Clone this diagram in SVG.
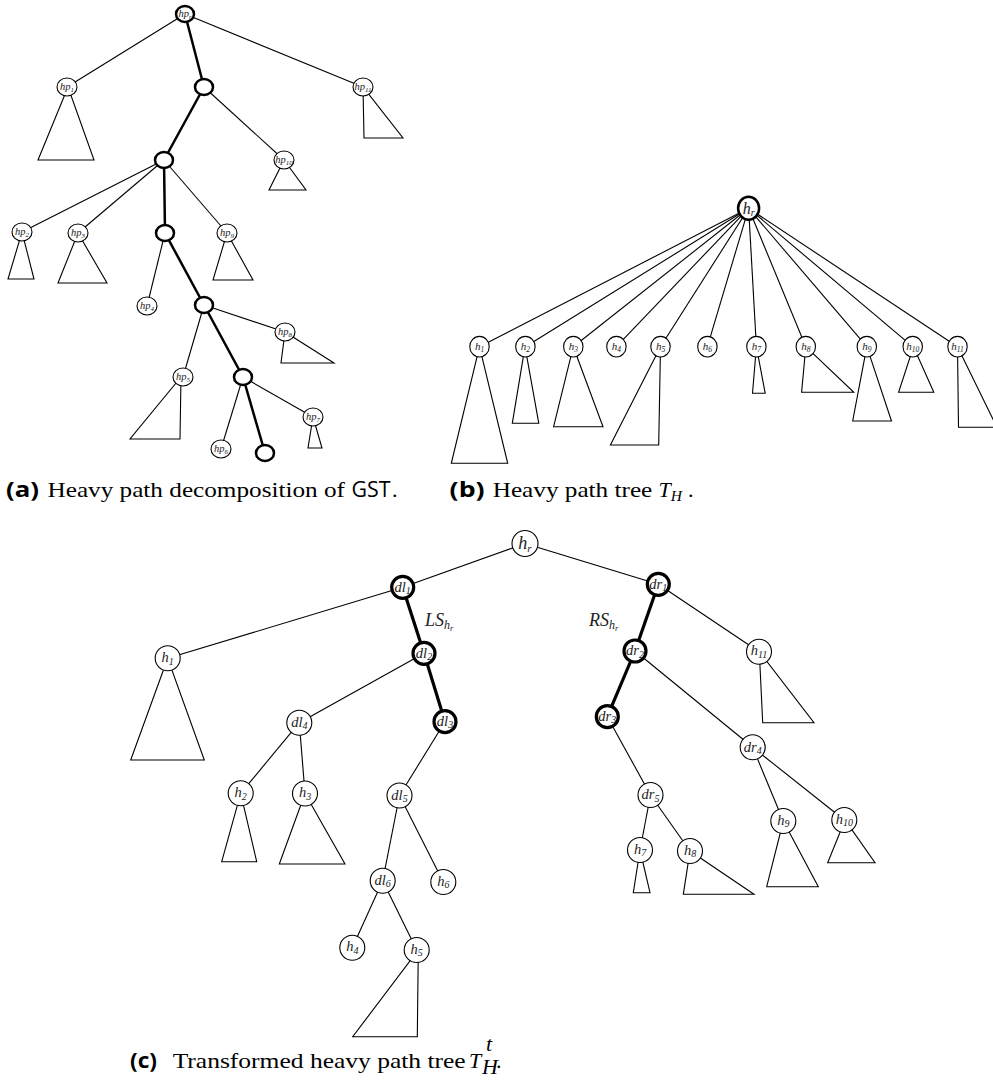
<svg xmlns="http://www.w3.org/2000/svg" width="993" height="1082" viewBox="0 0 993 1082">
<style>
.c{fill:none;stroke:#000;stroke-width:1.1}
.ch{fill:none;stroke:#000;stroke-width:2.5}
.chc{fill:none;stroke:#000;stroke-width:3.2}
.n{fill:#fff;stroke:#000;stroke-width:1.1}
.nh{fill:#fff;stroke:#000;stroke-width:2.5}
.nhc{fill:#fff;stroke:#000;stroke-width:3.2}
.tri{fill:none;stroke:#000;stroke-width:1.1;stroke-linejoin:miter}
.l{font-family:"Liberation Serif",serif;font-style:italic;text-anchor:middle;fill:#222}
.la{font-size:10.5px}
.lb{font-size:11px}
.lc{font-size:14.5px}
.cap{font-family:"Liberation Serif",serif;font-size:22px;fill:#000}
.capb{font-family:"Open Sans","DejaVu Sans",sans-serif;font-weight:700;font-size:21px;fill:#000}
.sans{font-family:"Open Sans","DejaVu Sans",sans-serif;font-size:21px;fill:#000}
</style>
<rect width="993" height="1082" fill="#fff"/>

<g id="connectors">
  <!-- panel a -->
  <line class="c" x1="185" y1="14" x2="67" y2="87"/>
  <line class="ch" x1="185" y1="14" x2="204" y2="87"/>
  <line class="c" x1="185" y1="14" x2="363" y2="87"/>
  <line class="ch" x1="204" y1="87" x2="164" y2="160"/>
  <line class="c" x1="204" y1="87" x2="284" y2="160"/>
  <line class="c" x1="164" y1="160" x2="22" y2="232"/>
  <line class="c" x1="164" y1="160" x2="78" y2="233"/>
  <line class="ch" x1="164" y1="160" x2="165" y2="233"/>
  <line class="c" x1="164" y1="160" x2="227" y2="233"/>
  <line class="c" x1="165" y1="233" x2="147" y2="306"/>
  <line class="ch" x1="165" y1="233" x2="204" y2="305"/>
  <line class="c" x1="204" y1="305" x2="285" y2="332"/>
  <line class="c" x1="204" y1="305" x2="183" y2="377"/>
  <line class="ch" x1="204" y1="305" x2="243" y2="377"/>
  <line class="c" x1="243" y1="377" x2="313" y2="417"/>
  <line class="c" x1="243" y1="377" x2="221" y2="449"/>
  <line class="ch" x1="243" y1="377" x2="265" y2="453"/>
  <!-- panel b -->
  <line class="c" x1="748.6" y1="208.3" x2="479.5" y2="346.7"/>
  <line class="c" x1="748.6" y1="208.3" x2="525.4" y2="346.7"/>
  <line class="c" x1="748.6" y1="208.3" x2="573.3" y2="346.7"/>
  <line class="c" x1="748.6" y1="208.3" x2="616.4" y2="346.7"/>
  <line class="c" x1="748.6" y1="208.3" x2="660.5" y2="346.7"/>
  <line class="c" x1="748.6" y1="208.3" x2="707.4" y2="346.7"/>
  <line class="c" x1="748.6" y1="208.3" x2="756.4" y2="346.7"/>
  <line class="c" x1="748.6" y1="208.3" x2="805.8" y2="346.7"/>
  <line class="c" x1="748.6" y1="208.3" x2="866.8" y2="346.7"/>
  <line class="c" x1="748.6" y1="208.3" x2="912.7" y2="346.7"/>
  <line class="c" x1="748.6" y1="208.3" x2="957.5" y2="346.7"/>
  <!-- panel c -->
  <line class="c" x1="525" y1="543.5" x2="402.7" y2="587.3"/>
  <line class="c" x1="525" y1="543.5" x2="658.3" y2="584.3"/>
  <line class="c" x1="402.7" y1="587.3" x2="167.7" y2="658.3"/>
  <line class="chc" x1="402.7" y1="587.3" x2="424" y2="653.3"/>
  <line class="c" x1="424" y1="653.3" x2="299.3" y2="722.7"/>
  <line class="chc" x1="424" y1="653.3" x2="445" y2="721.7"/>
  <line class="c" x1="299.3" y1="722.7" x2="240.7" y2="793.3"/>
  <line class="c" x1="299.3" y1="722.7" x2="305" y2="793.5"/>
  <line class="c" x1="445" y1="721.7" x2="399.5" y2="795.5"/>
  <line class="c" x1="399.5" y1="795.5" x2="382.7" y2="880.7"/>
  <line class="c" x1="399.5" y1="795.5" x2="443.3" y2="882"/>
  <line class="c" x1="382.7" y1="880.7" x2="352.3" y2="947.7"/>
  <line class="c" x1="382.7" y1="880.7" x2="416.7" y2="950"/>
  <line class="chc" x1="658.3" y1="584.3" x2="635" y2="651"/>
  <line class="c" x1="658.3" y1="584.3" x2="759" y2="651.7"/>
  <line class="chc" x1="635" y1="651" x2="607.3" y2="716.7"/>
  <line class="c" x1="635" y1="651" x2="752.7" y2="747.3"/>
  <line class="c" x1="607.3" y1="716.7" x2="650.5" y2="795"/>
  <line class="c" x1="650.5" y1="795" x2="640" y2="850"/>
  <line class="c" x1="650.5" y1="795" x2="690" y2="851"/>
  <line class="c" x1="752.7" y1="747.3" x2="783.3" y2="821"/>
  <line class="c" x1="752.7" y1="747.3" x2="844.3" y2="820"/>
</g>

<!-- Panel (a) nodes -->
<g id="a-hpr"><ellipse class="nh" cx="185" cy="14" rx="9" ry="8"/><text class="l la" x="185" y="17">hp<tspan font-size="7" dy="2">r</tspan></text></g>
<g id="a-n1"><ellipse class="nh" cx="204" cy="87" rx="9" ry="8"/></g>
<g id="a-hp1"><polygon class="tri" points="68,87 38,160 94,160"/><ellipse class="n" cx="67" cy="87" rx="10" ry="9"/><text class="l la" x="67" y="90">hp<tspan font-size="7" dy="2">1</tspan></text></g>
<g id="a-hp11"><polygon class="tri" points="363,87 364,138 403,138"/><ellipse class="n" cx="363" cy="87" rx="10" ry="9"/><text class="l la" x="363" y="90">hp<tspan font-size="7" dy="2">11</tspan></text></g>
<g id="a-n2"><ellipse class="nh" cx="164" cy="160" rx="9" ry="8"/></g>
<g id="a-hp10"><polygon class="tri" points="284,160 269,190 306,190"/><ellipse class="n" cx="284" cy="160" rx="10" ry="9"/><text class="l la" x="284" y="163">hp<tspan font-size="7" dy="2">10</tspan></text></g>
<g id="a-hp2"><polygon class="tri" points="22,232 8,279 34,279"/><ellipse class="n" cx="22" cy="232" rx="10" ry="9"/><text class="l la" x="22" y="235">hp<tspan font-size="7" dy="2">2</tspan></text></g>
<g id="a-hp3"><polygon class="tri" points="78,233 58,283 107,283"/><ellipse class="n" cx="78" cy="233" rx="10" ry="9"/><text class="l la" x="78" y="236">hp<tspan font-size="7" dy="2">3</tspan></text></g>
<g id="a-n3"><ellipse class="nh" cx="165" cy="233" rx="9" ry="8"/></g>
<g id="a-hp9"><polygon class="tri" points="227,233 213,280 253,280"/><ellipse class="n" cx="227" cy="233" rx="10" ry="9"/><text class="l la" x="227" y="236">hp<tspan font-size="7" dy="2">9</tspan></text></g>
<g id="a-hp4"><ellipse class="n" cx="147" cy="306" rx="10" ry="9"/><text class="l la" x="147" y="309">hp<tspan font-size="7" dy="2">4</tspan></text></g>
<g id="a-n4"><ellipse class="nh" cx="204" cy="305" rx="9" ry="8"/></g>
<g id="a-hp8"><polygon class="tri" points="285,332 281,363 334,363"/><ellipse class="n" cx="285" cy="332" rx="10" ry="9"/><text class="l la" x="285" y="335">hp<tspan font-size="7" dy="2">8</tspan></text></g>
<g id="a-hp5"><polygon class="tri" points="181,377 180,439 130,439"/><ellipse class="n" cx="183" cy="377" rx="10" ry="9"/><text class="l la" x="183" y="380">hp<tspan font-size="7" dy="2">5</tspan></text></g>
<g id="a-n5"><ellipse class="nh" cx="243" cy="377" rx="9" ry="8"/></g>
<g id="a-hp7"><polygon class="tri" points="313,417 308,448 322,448"/><ellipse class="n" cx="313" cy="417" rx="10" ry="9"/><text class="l la" x="313" y="420">hp<tspan font-size="7" dy="2">7</tspan></text></g>
<g id="a-hp6"><ellipse class="n" cx="221" cy="449" rx="10" ry="9"/><text class="l la" x="221" y="452">hp<tspan font-size="7" dy="2">6</tspan></text></g>
<g id="a-n6"><ellipse class="nh" cx="265" cy="453" rx="9" ry="8"/></g>

<!-- Panel (b) nodes -->
<g id="b-hr"><ellipse class="nh" cx="748.6" cy="208.3" rx="10.5" ry="11.5"/><text class="l" font-size="16" x="748.6" y="213.5">h<tspan font-size="10" dy="2">r</tspan></text></g>
<g id="b-h1"><polygon class="tri" points="479.5,346.7 451.3,463.3 507.7,463.3"/><ellipse class="n" cx="479.5" cy="346.7" rx="9.7" ry="10.3"/><text class="l lb" x="479.5" y="350">h<tspan font-size="7.5" dy="2">1</tspan></text></g>
<g id="b-h2"><polygon class="tri" points="525,346.7 512.3,423.3 538.8,423.3"/><ellipse class="n" cx="525.4" cy="346.7" rx="9.7" ry="10.3"/><text class="l lb" x="525.4" y="350">h<tspan font-size="7.5" dy="2">2</tspan></text></g>
<g id="b-h3"><polygon class="tri" points="573.3,346.7 553.6,426.7 603,426.7"/><ellipse class="n" cx="573.3" cy="346.7" rx="9.7" ry="10.3"/><text class="l lb" x="573.3" y="350">h<tspan font-size="7.5" dy="2">3</tspan></text></g>
<g id="b-h4"><ellipse class="n" cx="616.4" cy="346.7" rx="9.7" ry="10.3"/><text class="l lb" x="616.4" y="350">h<tspan font-size="7.5" dy="2">4</tspan></text></g>
<g id="b-h5"><polygon class="tri" points="660.5,346.7 658.7,445 610.4,445"/><ellipse class="n" cx="660.5" cy="346.7" rx="9.7" ry="10.3"/><text class="l lb" x="660.5" y="350">h<tspan font-size="7.5" dy="2">5</tspan></text></g>
<g id="b-h6"><ellipse class="n" cx="707.4" cy="346.7" rx="9.7" ry="10.3"/><text class="l lb" x="707.4" y="350">h<tspan font-size="7.5" dy="2">6</tspan></text></g>
<g id="b-h7"><polygon class="tri" points="756.4,346.7 752.5,393.3 765.2,393.3"/><ellipse class="n" cx="756.4" cy="346.7" rx="9.7" ry="10.3"/><text class="l lb" x="756.4" y="350">h<tspan font-size="7.5" dy="2">7</tspan></text></g>
<g id="b-h8"><polygon class="tri" points="805.8,346.7 801.6,392.3 853.8,392.3"/><ellipse class="n" cx="805.8" cy="346.7" rx="9.7" ry="10.3"/><text class="l lb" x="805.8" y="350">h<tspan font-size="7.5" dy="2">8</tspan></text></g>
<g id="b-h9"><polygon class="tri" points="866.8,346.7 852.7,421 891.5,421"/><ellipse class="n" cx="866.8" cy="346.7" rx="9.7" ry="10.3"/><text class="l lb" x="866.8" y="350">h<tspan font-size="7.5" dy="2">9</tspan></text></g>
<g id="b-h10"><polygon class="tri" points="913.5,346.7 898.6,392.3 933.8,392.3"/><ellipse class="n" cx="912.7" cy="346.7" rx="9.7" ry="10.3"/><text class="l lb" x="912.7" y="350">h<tspan font-size="7.5" dy="2">10</tspan></text></g>
<g id="b-h11"><polygon class="tri" points="957.5,346.7 958.5,427.3 997,427.3"/><ellipse class="n" cx="957.5" cy="346.7" rx="9.7" ry="10.3"/><text class="l lb" x="957.5" y="350">h<tspan font-size="7.5" dy="2">11</tspan></text></g>

<!-- Panel (c) nodes -->
<g id="c-hr"><circle class="n" cx="525" cy="543.5" r="13"/><text class="l" font-size="18" x="525" y="549">h<tspan font-size="11" dy="2.5">r</tspan></text></g>
<g id="c-dl1"><circle class="nhc" cx="402.7" cy="587.3" r="11"/><text class="l lc" x="402.7" y="591.5">dl<tspan font-size="10" dy="2.5">1</tspan></text></g>
<g id="c-dr1"><circle class="nhc" cx="658.3" cy="584.3" r="11"/><text class="l lc" x="658.3" y="588.5">dr<tspan font-size="10" dy="2.5">1</tspan></text></g>
<g id="c-h1"><polygon class="tri" points="167.7,658.3 130.7,760 204.3,760"/><circle class="n" cx="167.7" cy="658.3" r="12.5"/><text class="l lc" x="167.7" y="662">h<tspan font-size="10" dy="2.5">1</tspan></text></g>
<g id="c-dl2"><circle class="nhc" cx="424" cy="653.3" r="11"/><text class="l lc" x="424" y="657.5">dl<tspan font-size="10" dy="2.5">2</tspan></text></g>
<g id="c-dr2"><circle class="nhc" cx="635" cy="651" r="11"/><text class="l lc" x="635" y="655.2">dr<tspan font-size="10" dy="2.5">2</tspan></text></g>
<g id="c-h11"><polygon class="tri" points="759.3,651.7 762.7,722.7 814,722.7"/><circle class="n" cx="759" cy="651.7" r="12.5"/><text class="l lc" x="759" y="655.4">h<tspan font-size="10" dy="2.5">11</tspan></text></g>
<g id="c-dl4"><circle class="n" cx="299.3" cy="722.7" r="12.5"/><text class="l lc" x="299.3" y="726.9">dl<tspan font-size="10" dy="2.5">4</tspan></text></g>
<g id="c-dl3"><circle class="nhc" cx="445" cy="721.7" r="11"/><text class="l lc" x="445" y="725.9">dl<tspan font-size="10" dy="2.5">3</tspan></text></g>
<g id="c-dr3"><circle class="nhc" cx="607.3" cy="716.7" r="11"/><text class="l lc" x="607.3" y="720.9">dr<tspan font-size="10" dy="2.5">3</tspan></text></g>
<g id="c-dr4"><circle class="n" cx="752.7" cy="747.3" r="12.5"/><text class="l lc" x="752.7" y="751.5">dr<tspan font-size="10" dy="2.5">4</tspan></text></g>
<g id="c-h2"><polygon class="tri" points="240.7,793.3 221.7,861.7 256.7,861.7"/><circle class="n" cx="240.7" cy="793.3" r="12.5"/><text class="l lc" x="240.7" y="797">h<tspan font-size="10" dy="2.5">2</tspan></text></g>
<g id="c-h3"><polygon class="tri" points="305,793.5 279.3,864 345,864"/><circle class="n" cx="305" cy="793.5" r="12.5"/><text class="l lc" x="305" y="797.2">h<tspan font-size="10" dy="2.5">3</tspan></text></g>
<g id="c-dl5"><circle class="n" cx="399.5" cy="795.5" r="12.5"/><text class="l lc" x="399.5" y="799.7">dl<tspan font-size="10" dy="2.5">5</tspan></text></g>
<g id="c-dr5"><circle class="n" cx="650.5" cy="795" r="12.5"/><text class="l lc" x="650.5" y="799.2">dr<tspan font-size="10" dy="2.5">5</tspan></text></g>
<g id="c-h7"><polygon class="tri" points="640,850 633.3,892.7 650,892.7"/><circle class="n" cx="640" cy="850" r="12.5"/><text class="l lc" x="640" y="853.7">h<tspan font-size="10" dy="2.5">7</tspan></text></g>
<g id="c-h8"><polygon class="tri" points="690,851 683.3,894.3 754,894.3"/><circle class="n" cx="690" cy="851" r="12.5"/><text class="l lc" x="690" y="854.7">h<tspan font-size="10" dy="2.5">8</tspan></text></g>
<g id="c-h9"><polygon class="tri" points="783.3,821 766.7,886.7 818.3,886.7"/><circle class="n" cx="783.3" cy="821" r="12.5"/><text class="l lc" x="783.3" y="824.7">h<tspan font-size="10" dy="2.5">9</tspan></text></g>
<g id="c-h10"><polygon class="tri" points="845,820 827.7,862.7 875,862.7"/><circle class="n" cx="844.3" cy="820" r="12.5"/><text class="l lc" x="844.3" y="823.7">h<tspan font-size="10" dy="2.5">10</tspan></text></g>
<g id="c-dl6"><circle class="n" cx="382.7" cy="880.7" r="12.5"/><text class="l lc" x="382.7" y="884.9">dl<tspan font-size="10" dy="2.5">6</tspan></text></g>
<g id="c-h6"><circle class="n" cx="443.3" cy="882" r="12.5"/><text class="l lc" x="443.3" y="885.7">h<tspan font-size="10" dy="2.5">6</tspan></text></g>
<g id="c-h4"><circle class="n" cx="352.3" cy="947.7" r="12.5"/><text class="l lc" x="352.3" y="951.4">h<tspan font-size="10" dy="2.5">4</tspan></text></g>
<g id="c-h5"><polygon class="tri" points="418.3,950 417.3,1036.7 352.7,1036.7"/><circle class="n" cx="416.7" cy="950" r="12.5"/><text class="l lc" x="416.7" y="953.7">h<tspan font-size="10" dy="2.5">5</tspan></text></g>

<g id="labels">
  <text class="l" font-size="18" style="text-anchor:start" x="425" y="626">LS<tspan font-size="12" dy="3">h</tspan><tspan font-size="8.5" dy="1.5">r</tspan></text>
  <text class="l" font-size="18" style="text-anchor:start" x="589" y="626">RS<tspan font-size="12" dy="3">h</tspan><tspan font-size="8.5" dy="1.5">r</tspan></text>
</g>

<g id="captions">
  <text class="capb" x="6" y="497" textLength="33" lengthAdjust="spacingAndGlyphs">(a)</text>
  <text class="cap" x="47.5" y="497" textLength="297.5" lengthAdjust="spacingAndGlyphs">Heavy path decomposition of</text>
  <text class="sans" x="351.5" y="497" textLength="39" lengthAdjust="spacingAndGlyphs">GST</text>
  <text class="cap" x="392" y="497">.</text>

  <text class="capb" x="449.6" y="497" textLength="35" lengthAdjust="spacingAndGlyphs">(b)</text>
  <text class="cap" x="492.7" y="497" textLength="159.6" lengthAdjust="spacingAndGlyphs">Heavy path tree</text>
  <text class="cap" x="658.6" y="497" font-style="italic">T<tspan font-size="15.5" dy="4">H</tspan></text>
  <text class="cap" x="688" y="497">.</text>

  <text class="capb" x="130" y="1068" textLength="27" lengthAdjust="spacingAndGlyphs">(c)</text>
  <text class="cap" x="172.7" y="1068" textLength="293" lengthAdjust="spacingAndGlyphs">Transformed heavy path tree</text>
  <text class="cap" x="469" y="1068" font-style="italic">T</text>
  <text class="cap" x="482" y="1074" font-size="15" font-style="italic">H</text>
  <text class="cap" x="486" y="1051" font-size="13" font-style="italic">t</text>
  <text class="cap" x="496" y="1068">.</text>
</g>
</svg>
